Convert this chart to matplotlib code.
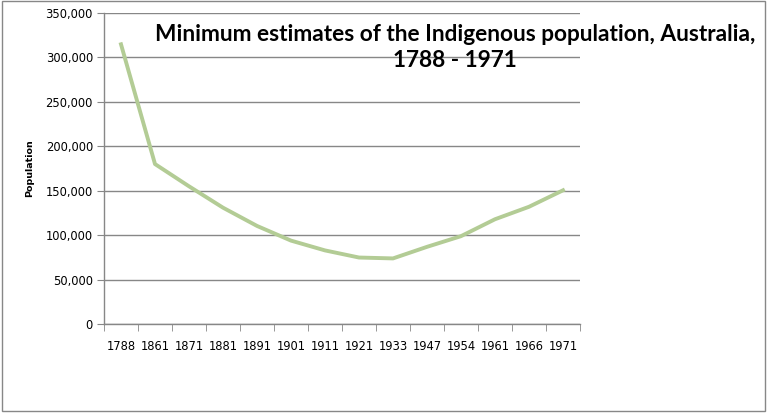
import matplotlib
matplotlib.use("Agg")
import matplotlib.pyplot as plt
from matplotlib.ticker import FuncFormatter, FixedLocator
from matplotlib.patches import Rectangle

years = ["1788", "1861", "1871", "1881", "1891", "1901", "1911", "1921",
         "1933", "1947", "1954", "1961", "1966", "1971"]
population = [314500, 180000, 155000, 131000, 110500, 94000, 83000, 75000,
              74000, 87000, 99000, 118000, 132000, 150500]
yticks = [0, 50000, 100000, 150000, 200000, 250000, 300000, 350000]
title = "Minimum estimates of the Indigenous population, Australia,\n1788 - 1971"
ylabel = "Population"

plt.rcParams["font.family"] = ["DejaVu Sans"]

fig = plt.figure(figsize=(7.68, 4.13), dpi=100)
fig.patch.set_facecolor("white")
fig.patches.append(Rectangle((2/768, 2/413), 763/768, 410/413, transform=fig.transFigure,
                             fill=False, edgecolor="#878787", linewidth=1.0))

ax = fig.add_axes([104/768, (413-324.3)/413, 476/768, 311.6/413])
x = list(range(len(years)))
ax.plot(x, population, color="#B3CC95", linewidth=2.8, solid_joinstyle="round", zorder=3)

ax.set_xlim(-0.5, len(years) - 0.5)
ax.set_ylim(0, 350000)
ax.set_yticks(yticks)
ax.yaxis.set_major_formatter(FuncFormatter(lambda v, p: f"{int(v):,}"))
ax.set_xticks(x)
ax.set_xticklabels(years)
ax.xaxis.set_minor_locator(FixedLocator([i - 0.5 for i in range(len(years) + 1)]))
ax.tick_params(axis="x", which="major", length=0, pad=11, labelsize=8.3)
ax.tick_params(axis="x", which="minor", length=5, color="#878787", direction="out")
ax.tick_params(axis="y", which="major", length=5, color="#878787", labelsize=8.3, pad=3)

ax.grid(axis="y", color="#878787", linewidth=1.0)
ax.set_axisbelow(True)
for s in ["top", "right"]:
    ax.spines[s].set_visible(False)
for s in ["left", "bottom"]:
    ax.spines[s].set_color("#878787")
    ax.spines[s].set_linewidth(1.0)

fig.text(30/768, 1 - 168/413, ylabel, rotation=90, ha="center", va="center",
         fontsize=6.8, fontweight="bold")
fig.text(455/768, 1 - 47.5/413, title, ha="center", va="center", fontsize=16.3,
         fontweight="bold", family="Lato", linespacing=1.3)

fig.savefig("out.png", dpi=100)
